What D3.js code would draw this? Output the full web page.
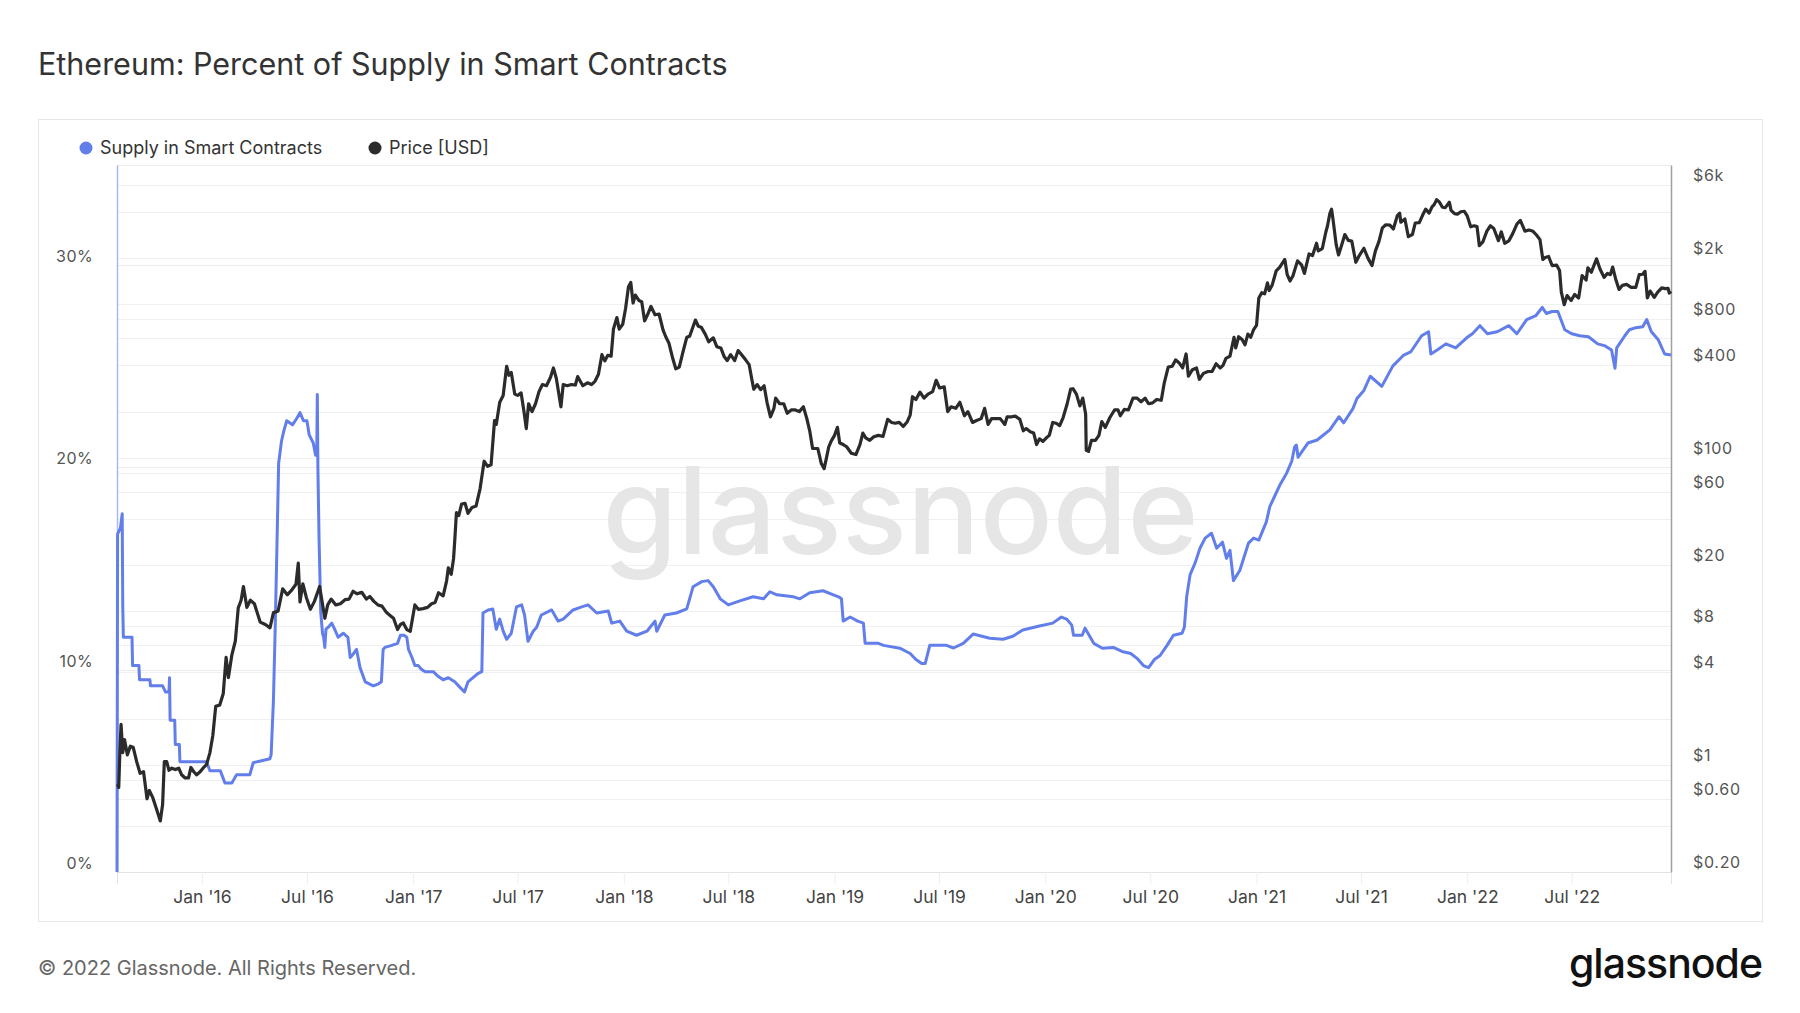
<!DOCTYPE html>
<html>
<head>
<meta charset="utf-8">
<script src="https://cdn.jsdelivr.net/npm/d3@7"></script>
<style>
  body { margin: 0; background: #fff; }
  svg { display: block; font-family: Inter, "Noto Sans", sans-serif; }
</style>
</head>
<body>
<svg id="chart" width="1800" height="1013"></svg>
<script>
// Percent of ETH supply held in smart contracts
const supplyData = [
  ["2015-08-07", 0], ["2015-08-08", 16.7], ["2015-08-13", 17.0], ["2015-08-16", 17.7], ["2015-08-17", 13.1],
  ["2015-08-18", 11.6], ["2015-09-02", 11.6], ["2015-09-03", 10.2], ["2015-09-14", 10.2], ["2015-09-15", 9.5],
  ["2015-10-03", 9.5], ["2015-10-04", 9.2], ["2015-10-25", 9.2], ["2015-10-30", 8.9], ["2015-11-05", 8.9],
  ["2015-11-06", 9.6], ["2015-11-07", 7.5], ["2015-11-15", 7.5], ["2015-11-16", 6.3], ["2015-11-23", 6.3],
  ["2015-11-24", 5.45], ["2016-01-09", 5.45], ["2016-01-15", 5.0], ["2016-02-02", 5.0], ["2016-02-06", 4.7],
  ["2016-02-10", 4.4], ["2016-02-22", 4.4], ["2016-03-01", 4.8], ["2016-03-24", 4.8], ["2016-03-30", 5.4],
  ["2016-04-28", 5.6], ["2016-04-30", 5.8], ["2016-05-04", 8.5], ["2016-05-07", 12.0], ["2016-05-10", 16.0],
  ["2016-05-13", 20.2], ["2016-05-18", 21.3], ["2016-05-22", 21.8], ["2016-05-27", 22.3], ["2016-06-06", 22.1],
  ["2016-06-13", 22.4], ["2016-06-19", 22.7], ["2016-06-25", 22.3], ["2016-07-01", 22.3], ["2016-07-05", 21.6],
  ["2016-07-12", 21.2], ["2016-07-16", 20.6], ["2016-07-18", 20.6], ["2016-07-19", 23.6], ["2016-07-20", 20.0],
  ["2016-07-22", 16.5], ["2016-07-25", 12.8], ["2016-07-28", 11.8], ["2016-07-30", 11.6], ["2016-08-01", 11.1],
  ["2016-08-03", 12.0], ["2016-08-07", 12.1], ["2016-08-13", 12.3], ["2016-08-18", 12.0], ["2016-08-24", 11.6],
  ["2016-09-02", 11.8], ["2016-09-10", 11.6], ["2016-09-14", 10.6], ["2016-09-20", 10.8], ["2016-09-25", 11.0],
  ["2016-10-01", 10.1], ["2016-10-10", 9.4], ["2016-10-17", 9.3], ["2016-10-24", 9.2], ["2016-11-02", 9.3],
  ["2016-11-07", 9.4], ["2016-11-10", 11.0], ["2016-11-13", 11.1], ["2016-11-25", 11.2], ["2016-12-05", 11.3],
  ["2016-12-10", 11.7], ["2016-12-16", 11.7], ["2016-12-21", 11.6], ["2016-12-24", 11.0], ["2016-12-30", 10.6],
  ["2017-01-04", 10.2], ["2017-01-10", 10.2], ["2017-01-16", 10.0], ["2017-01-22", 9.9], ["2017-02-05", 9.9],
  ["2017-02-12", 9.7], ["2017-02-22", 9.5], ["2017-03-03", 9.6], ["2017-03-14", 9.4], ["2017-03-24", 9.1],
  ["2017-03-31", 8.9], ["2017-04-06", 9.4], ["2017-04-23", 9.8], ["2017-04-30", 9.9], ["2017-05-02", 12.8],
  ["2017-05-11", 12.95], ["2017-05-19", 13.0], ["2017-05-25", 12.0], ["2017-05-31", 12.5], ["2017-06-06", 11.9],
  ["2017-06-12", 11.5], ["2017-06-20", 11.8], ["2017-06-29", 13.1], ["2017-07-08", 13.2], ["2017-07-13", 12.7],
  ["2017-07-19", 11.4], ["2017-07-28", 11.9], ["2017-08-03", 12.1], ["2017-08-11", 12.7], ["2017-08-29", 12.95],
  ["2017-09-09", 12.4], ["2017-09-18", 12.5], ["2017-10-05", 12.95], ["2017-10-20", 13.1], ["2017-10-31", 13.2],
  ["2017-11-15", 12.8], ["2017-12-05", 12.9], ["2017-12-11", 12.3], ["2017-12-25", 12.4], ["2018-01-06", 11.9],
  ["2018-01-23", 11.7], ["2018-02-10", 11.9], ["2018-02-24", 12.4], ["2018-02-27", 11.9], ["2018-03-13", 12.7],
  ["2018-04-02", 12.8], ["2018-04-20", 13.0], ["2018-05-01", 14.1], ["2018-05-16", 14.35], ["2018-05-27", 14.4],
  ["2018-06-05", 14.1], ["2018-06-17", 13.5], ["2018-07-01", 13.2], ["2018-07-21", 13.4], ["2018-08-13", 13.6],
  ["2018-08-31", 13.5], ["2018-09-11", 13.85], ["2018-09-23", 13.7], ["2018-10-22", 13.6], ["2018-11-02", 13.5],
  ["2018-11-19", 13.8], ["2018-12-12", 13.9], ["2018-12-30", 13.7], ["2019-01-08", 13.6], ["2019-01-13", 13.5],
  ["2019-01-16", 12.4], ["2019-01-28", 12.6], ["2019-02-10", 12.4], ["2019-02-20", 12.3], ["2019-02-23", 11.3],
  ["2019-03-18", 11.3], ["2019-03-27", 11.2], ["2019-04-24", 11.06], ["2019-05-12", 10.8], ["2019-05-22", 10.5],
  ["2019-06-01", 10.3], ["2019-06-07", 10.3], ["2019-06-15", 11.2], ["2019-07-14", 11.2], ["2019-07-26", 11.07],
  ["2019-08-12", 11.3], ["2019-08-29", 11.76], ["2019-09-27", 11.55], ["2019-10-20", 11.5], ["2019-11-06", 11.65],
  ["2019-11-23", 11.96], ["2019-12-22", 12.16], ["2020-01-14", 12.3], ["2020-01-29", 12.6], ["2020-02-07", 12.5],
  ["2020-02-16", 12.2], ["2020-02-19", 11.7], ["2020-03-05", 11.7], ["2020-03-10", 12.05], ["2020-03-19", 11.6],
  ["2020-03-25", 11.3], ["2020-04-09", 11.06], ["2020-04-28", 11.1], ["2020-05-13", 10.9], ["2020-05-28", 10.8],
  ["2020-06-08", 10.56], ["2020-06-19", 10.2], ["2020-06-28", 10.1], ["2020-07-08", 10.5], ["2020-07-18", 10.7],
  ["2020-07-30", 11.2], ["2020-08-10", 11.7], ["2020-08-25", 11.8], ["2020-08-29", 12.1], ["2020-09-02", 13.6],
  ["2020-09-08", 14.7], ["2020-09-17", 15.3], ["2020-09-25", 16.0], ["2020-10-04", 16.5], ["2020-10-15", 16.74],
  ["2020-10-24", 16.0], ["2020-11-03", 16.3], ["2020-11-10", 15.5], ["2020-11-16", 15.9], ["2020-11-22", 14.4],
  ["2020-12-03", 14.9], ["2020-12-18", 16.25], ["2020-12-27", 16.5], ["2021-01-05", 16.4], ["2021-01-18", 17.3],
  ["2021-01-24", 18.06], ["2021-02-10", 19.1], ["2021-02-22", 19.7], ["2021-03-03", 20.3], ["2021-03-08", 21.0],
  ["2021-03-11", 21.1], ["2021-03-14", 20.5], ["2021-03-31", 21.2], ["2021-04-16", 21.35], ["2021-05-08", 21.85],
  ["2021-05-24", 22.5], ["2021-06-01", 22.2], ["2021-06-17", 22.9], ["2021-06-24", 23.4], ["2021-07-06", 23.8],
  ["2021-07-17", 24.5], ["2021-08-06", 24.0], ["2021-08-25", 25.0], ["2021-09-13", 25.55], ["2021-09-25", 25.7],
  ["2021-10-14", 26.5], ["2021-10-26", 26.7], ["2021-10-30", 25.6], ["2021-11-10", 25.8], ["2021-11-25", 26.1],
  ["2021-12-12", 25.9], ["2021-12-31", 26.4], ["2022-01-10", 26.6], ["2022-01-23", 27.0], ["2022-02-05", 26.6],
  ["2022-02-22", 26.7], ["2022-03-14", 27.0], ["2022-03-28", 26.6], ["2022-04-14", 27.3], ["2022-04-30", 27.5],
  ["2022-05-11", 27.9], ["2022-05-18", 27.6], ["2022-05-28", 27.7], ["2022-06-07", 27.7], ["2022-06-19", 26.8],
  ["2022-07-01", 26.6], ["2022-07-15", 26.5], ["2022-07-30", 26.45], ["2022-08-15", 26.1], ["2022-08-28", 26.0],
  ["2022-09-08", 25.8], ["2022-09-14", 24.9], ["2022-09-17", 25.9], ["2022-10-01", 26.5], ["2022-10-09", 26.8],
  ["2022-10-20", 26.9], ["2022-11-01", 26.95], ["2022-11-08", 27.3], ["2022-11-16", 26.7], ["2022-11-28", 26.3],
  ["2022-12-09", 25.6], ["2022-12-20", 25.55]
];

// ETH price in USD
const priceData = [
  ["2015-08-08", 0.75], ["2015-08-10", 0.71], ["2015-08-12", 1.22], ["2015-08-14", 1.83], ["2015-08-17", 1.20],
  ["2015-08-20", 1.46], ["2015-08-25", 1.16], ["2015-08-30", 1.32], ["2015-09-04", 1.30], ["2015-09-10", 1.05],
  ["2015-09-16", 0.88], ["2015-09-22", 0.90], ["2015-09-28", 0.60], ["2015-10-02", 0.68], ["2015-10-08", 0.61],
  ["2015-10-14", 0.52], ["2015-10-21", 0.43], ["2015-10-25", 0.55], ["2015-10-28", 1.05], ["2015-11-01", 1.05],
  ["2015-11-05", 0.92], ["2015-11-10", 0.95], ["2015-11-16", 0.93], ["2015-11-22", 0.95], ["2015-11-27", 0.86],
  ["2015-12-03", 0.82], ["2015-12-09", 0.82], ["2015-12-13", 0.96], ["2015-12-18", 0.90], ["2015-12-23", 0.86],
  ["2015-12-29", 0.90], ["2016-01-03", 0.95], ["2016-01-09", 1.00], ["2016-01-15", 1.20], ["2016-01-20", 1.55],
  ["2016-01-25", 2.40], ["2016-02-01", 2.45], ["2016-02-07", 2.90], ["2016-02-12", 5.0], ["2016-02-16", 3.7],
  ["2016-02-22", 5.2], ["2016-02-28", 6.4], ["2016-03-04", 10.5], ["2016-03-09", 11.8], ["2016-03-13", 14.5],
  ["2016-03-19", 10.6], ["2016-03-25", 11.8], ["2016-04-01", 11.2], ["2016-04-11", 8.5], ["2016-04-20", 8.2],
  ["2016-04-28", 7.8], ["2016-05-04", 9.8], ["2016-05-12", 10.0], ["2016-05-20", 14.0], ["2016-05-28", 12.8],
  ["2016-06-05", 13.8], ["2016-06-12", 15.0], ["2016-06-16", 20.6], ["2016-06-19", 11.5], ["2016-06-24", 15.1],
  ["2016-06-30", 12.3], ["2016-07-07", 10.3], ["2016-07-14", 11.6], ["2016-07-23", 14.5], ["2016-08-01", 9.0],
  ["2016-08-06", 11.0], ["2016-08-12", 12.0], ["2016-08-20", 11.0], ["2016-08-28", 11.2], ["2016-09-05", 11.9],
  ["2016-09-12", 12.0], ["2016-09-19", 13.5], ["2016-09-26", 13.0], ["2016-10-04", 13.3], ["2016-10-12", 12.0],
  ["2016-10-18", 12.5], ["2016-10-25", 11.6], ["2016-11-01", 11.0], ["2016-11-08", 10.8], ["2016-11-16", 9.8],
  ["2016-11-22", 9.4], ["2016-11-28", 9.0], ["2016-12-05", 7.6], ["2016-12-10", 8.2], ["2016-12-15", 8.4],
  ["2016-12-21", 7.6], ["2016-12-27", 7.4], ["2017-01-04", 11.0], ["2017-01-10", 10.3], ["2017-01-18", 10.4],
  ["2017-01-26", 10.6], ["2017-02-02", 11.2], ["2017-02-08", 11.4], ["2017-02-14", 13.2], ["2017-02-22", 12.6],
  ["2017-02-28", 15.8], ["2017-03-03", 19.2], ["2017-03-08", 17.4], ["2017-03-12", 22.0], ["2017-03-14", 28.5],
  ["2017-03-17", 44.0], ["2017-03-21", 42.0], ["2017-03-26", 50.0], ["2017-04-01", 50.5], ["2017-04-06", 43.5],
  ["2017-04-13", 47.5], ["2017-04-20", 48.5], ["2017-04-27", 63.0], ["2017-05-04", 95.0], ["2017-05-10", 88.0],
  ["2017-05-16", 90.0], ["2017-05-22", 175], ["2017-05-25", 165], ["2017-05-31", 230], ["2017-06-06", 255],
  ["2017-06-12", 395], ["2017-06-16", 345], ["2017-06-20", 360], ["2017-06-26", 260], ["2017-07-01", 255],
  ["2017-07-07", 265], ["2017-07-12", 200], ["2017-07-16", 155], ["2017-07-20", 225], ["2017-07-26", 200],
  ["2017-08-01", 225], ["2017-08-07", 270], ["2017-08-13", 300], ["2017-08-20", 295], ["2017-08-27", 335],
  ["2017-09-01", 385], ["2017-09-06", 330], ["2017-09-14", 215], ["2017-09-18", 300], ["2017-09-25", 295],
  ["2017-10-02", 300], ["2017-10-09", 298], ["2017-10-13", 338], ["2017-10-22", 295], ["2017-10-30", 308],
  ["2017-11-06", 300], ["2017-11-12", 315], ["2017-11-18", 350], ["2017-11-24", 470], ["2017-11-29", 428],
  ["2017-12-04", 465], ["2017-12-10", 460], ["2017-12-14", 690], ["2017-12-20", 820], ["2017-12-24", 690],
  ["2017-12-30", 740], ["2018-01-04", 940], ["2018-01-09", 1300], ["2018-01-13", 1390], ["2018-01-17", 1020],
  ["2018-01-21", 1150], ["2018-01-27", 1060], ["2018-02-01", 1040], ["2018-02-06", 780], ["2018-02-11", 855],
  ["2018-02-17", 970], ["2018-02-24", 855], ["2018-03-03", 865], ["2018-03-10", 680], ["2018-03-15", 610],
  ["2018-03-20", 560], ["2018-03-27", 440], ["2018-04-01", 380], ["2018-04-07", 390], ["2018-04-14", 500],
  ["2018-04-20", 610], ["2018-04-25", 620], ["2018-05-05", 790], ["2018-05-10", 720], ["2018-05-15", 710],
  ["2018-05-22", 640], ["2018-05-28", 570], ["2018-06-05", 605], ["2018-06-11", 530], ["2018-06-18", 520],
  ["2018-06-24", 455], ["2018-06-29", 430], ["2018-07-05", 470], ["2018-07-12", 430], ["2018-07-18", 500],
  ["2018-07-24", 470], ["2018-07-31", 435], ["2018-08-06", 405], ["2018-08-11", 320], ["2018-08-14", 280],
  ["2018-08-20", 300], ["2018-08-26", 278], ["2018-09-01", 295], ["2018-09-06", 230], ["2018-09-12", 185],
  ["2018-09-18", 210], ["2018-09-21", 245], ["2018-09-28", 225], ["2018-10-05", 225], ["2018-10-11", 195],
  ["2018-10-18", 205], ["2018-10-25", 205], ["2018-11-01", 200], ["2018-11-08", 215], ["2018-11-14", 180],
  ["2018-11-19", 150], ["2018-11-24", 115], ["2018-11-28", 115], ["2018-12-03", 115], ["2018-12-09", 92],
  ["2018-12-14", 85], ["2018-12-18", 100], ["2018-12-22", 118], ["2018-12-26", 128], ["2019-01-01", 140],
  ["2019-01-06", 158], ["2019-01-10", 125], ["2019-01-16", 122], ["2019-01-22", 118], ["2019-01-30", 107],
  ["2019-02-07", 105], ["2019-02-14", 122], ["2019-02-19", 145], ["2019-02-24", 135], ["2019-03-03", 130],
  ["2019-03-10", 137], ["2019-03-18", 140], ["2019-03-26", 138], ["2019-04-03", 178], ["2019-04-10", 170],
  ["2019-04-16", 168], ["2019-04-23", 170], ["2019-04-30", 160], ["2019-05-07", 172], ["2019-05-12", 190],
  ["2019-05-16", 250], ["2019-05-22", 240], ["2019-05-29", 268], ["2019-06-05", 245], ["2019-06-12", 260],
  ["2019-06-20", 270], ["2019-06-26", 320], ["2019-07-02", 285], ["2019-07-10", 290], ["2019-07-16", 200],
  ["2019-07-22", 215], ["2019-07-30", 210], ["2019-08-06", 230], ["2019-08-14", 188], ["2019-08-20", 200],
  ["2019-08-28", 170], ["2019-09-04", 175], ["2019-09-12", 180], ["2019-09-18", 210], ["2019-09-24", 165],
  ["2019-09-30", 180], ["2019-10-08", 180], ["2019-10-15", 180], ["2019-10-23", 165], ["2019-10-27", 185],
  ["2019-11-04", 185], ["2019-11-10", 187], ["2019-11-18", 178], ["2019-11-24", 150], ["2019-11-29", 155],
  ["2019-12-06", 148], ["2019-12-12", 145], ["2019-12-17", 122], ["2019-12-22", 133], ["2019-12-28", 128],
  ["2020-01-03", 135], ["2020-01-08", 140], ["2020-01-14", 170], ["2020-01-20", 168], ["2020-01-26", 162],
  ["2020-02-01", 183], ["2020-02-08", 225], ["2020-02-14", 280], ["2020-02-18", 282], ["2020-02-24", 260],
  ["2020-03-01", 218], ["2020-03-06", 245], ["2020-03-11", 193], ["2020-03-12", 112], ["2020-03-16", 110],
  ["2020-03-21", 130], ["2020-03-28", 130], ["2020-04-03", 140], ["2020-04-08", 172], ["2020-04-14", 158],
  ["2020-04-22", 183], ["2020-04-30", 205], ["2020-05-06", 205], ["2020-05-10", 188], ["2020-05-17", 207],
  ["2020-05-24", 205], ["2020-06-01", 245], ["2020-06-08", 245], ["2020-06-15", 232], ["2020-06-22", 245],
  ["2020-06-28", 225], ["2020-07-05", 228], ["2020-07-12", 240], ["2020-07-20", 237], ["2020-07-25", 305],
  ["2020-08-01", 390], ["2020-08-08", 395], ["2020-08-14", 435], ["2020-08-20", 415], ["2020-08-26", 385],
  ["2020-09-01", 475], ["2020-09-05", 340], ["2020-09-12", 375], ["2020-09-19", 385], ["2020-09-24", 325],
  ["2020-10-01", 355], ["2020-10-09", 365], ["2020-10-16", 365], ["2020-10-23", 410], ["2020-10-30", 385],
  ["2020-11-04", 400], ["2020-11-09", 445], ["2020-11-16", 460], ["2020-11-23", 610], ["2020-11-26", 520],
  ["2020-12-01", 615], ["2020-12-07", 590], ["2020-12-12", 545], ["2020-12-17", 640], ["2020-12-22", 610],
  ["2020-12-27", 685], ["2021-01-01", 730], ["2021-01-05", 1100], ["2021-01-10", 1190], ["2021-01-15", 1170],
  ["2021-01-20", 1380], ["2021-01-23", 1230], ["2021-01-28", 1330], ["2021-02-04", 1650], ["2021-02-10", 1740],
  ["2021-02-19", 1960], ["2021-02-23", 1570], ["2021-02-28", 1420], ["2021-03-05", 1530], ["2021-03-13", 1920],
  ["2021-03-20", 1810], ["2021-03-25", 1590], ["2021-04-02", 2130], ["2021-04-08", 2080], ["2021-04-15", 2500],
  ["2021-04-18", 2230], ["2021-04-25", 2310], ["2021-05-01", 2950], ["2021-05-04", 3250], ["2021-05-08", 3900],
  ["2021-05-11", 4170], ["2021-05-13", 3700], ["2021-05-19", 2450], ["2021-05-23", 2100], ["2021-05-28", 2400],
  ["2021-06-03", 2850], ["2021-06-09", 2610], ["2021-06-15", 2580], ["2021-06-22", 1880], ["2021-06-28", 2080],
  ["2021-07-06", 2320], ["2021-07-13", 2000], ["2021-07-20", 1790], ["2021-07-26", 2230], ["2021-08-01", 2560],
  ["2021-08-07", 3150], ["2021-08-13", 3300], ["2021-08-20", 3280], ["2021-08-26", 3100], ["2021-09-02", 3790],
  ["2021-09-06", 3930], ["2021-09-08", 3430], ["2021-09-15", 3600], ["2021-09-21", 2760], ["2021-09-28", 2850],
  ["2021-10-03", 3390], ["2021-10-10", 3410], ["2021-10-16", 3830], ["2021-10-21", 4170], ["2021-10-27", 3930],
  ["2021-11-01", 4320], ["2021-11-05", 4480], ["2021-11-09", 4810], ["2021-11-14", 4630], ["2021-11-19", 4290],
  ["2021-11-24", 4270], ["2021-12-01", 4630], ["2021-12-04", 4100], ["2021-12-10", 3900], ["2021-12-15", 3870],
  ["2021-12-21", 4010], ["2021-12-27", 4040], ["2022-01-01", 3770], ["2022-01-07", 3200], ["2022-01-13", 3250],
  ["2022-01-18", 3210], ["2022-01-22", 2410], ["2022-01-28", 2550], ["2022-02-04", 3000], ["2022-02-10", 3250],
  ["2022-02-16", 3120], ["2022-02-24", 2600], ["2022-03-01", 2970], ["2022-03-07", 2500], ["2022-03-14", 2590],
  ["2022-03-21", 2900], ["2022-03-28", 3330], ["2022-04-03", 3520], ["2022-04-11", 3000], ["2022-04-18", 3050],
  ["2022-04-25", 2990], ["2022-05-01", 2830], ["2022-05-07", 2640], ["2022-05-12", 1960], ["2022-05-16", 2020],
  ["2022-05-22", 2050], ["2022-05-28", 1790], ["2022-06-05", 1800], ["2022-06-10", 1660], ["2022-06-13", 1200],
  ["2022-06-18", 995], ["2022-06-23", 1140], ["2022-06-30", 1060], ["2022-07-06", 1160], ["2022-07-13", 1100],
  ["2022-07-19", 1540], ["2022-07-26", 1440], ["2022-07-29", 1730], ["2022-08-04", 1620], ["2022-08-13", 1980],
  ["2022-08-19", 1700], ["2022-08-26", 1500], ["2022-09-01", 1590], ["2022-09-06", 1560], ["2022-09-10", 1750],
  ["2022-09-15", 1470], ["2022-09-21", 1250], ["2022-09-27", 1330], ["2022-10-04", 1350], ["2022-10-12", 1290],
  ["2022-10-20", 1290], ["2022-10-26", 1560], ["2022-11-01", 1570], ["2022-11-05", 1640], ["2022-11-09", 1100],
  ["2022-11-14", 1220], ["2022-11-21", 1110], ["2022-11-27", 1200], ["2022-12-04", 1280], ["2022-12-10", 1265],
  ["2022-12-15", 1270], ["2022-12-17", 1185], ["2022-12-20", 1215]
];

const dateRange = ["2015-08-07", "2022-12-20"];
const xTickDates = ["2016-01-01", "2016-07-01", "2017-01-01", "2017-07-01", "2018-01-01", "2018-07-01",
  "2019-01-01", "2019-07-01", "2020-01-01", "2020-07-01", "2021-01-01", "2021-07-01", "2022-01-01", "2022-07-01"];
const pctTicks = [0, 10, 20, 30];
const pctMax = 34.94;
const priceDomain = [0.2, 8090];
const priceGridTicks = [0.2, 0.4, 0.6, 0.8, 1, 2, 4, 6, 8, 10, 20, 40, 60, 80, 100, 200, 400, 600, 800,
  1000, 2000, 4000, 6000];
const priceLabelTicks = [0.2, 0.6, 1, 4, 8, 20, 60, 100, 400, 800, 2000, 6000];

const BLUE = "#627eea";
const DARK = "#2b2b2b";

const parse = d3.timeParse("%Y-%m-%d");
const supply = supplyData.map(d => ({ time: parse(d[0]), value: d[1] }));
const price = priceData.map(d => ({ time: parse(d[0]), value: d[1] }));

const svg = d3.select("#chart");
const margin = { top: 165, right: 129, bottom: 141, left: 117 };
const width = 1800 - margin.left - margin.right;
const height = 1013 - margin.top - margin.bottom;

// title + frame
svg.append("text")
  .attr("x", 38).attr("y", 75)
  .attr("font-size", 30.5)
  .attr("fill", "#333")
  .text("Ethereum: Percent of Supply in Smart Contracts");

svg.append("rect")
  .attr("x", 38.5).attr("y", 119.5)
  .attr("width", 1724).attr("height", 802)
  .attr("fill", "#fff")
  .attr("stroke", "#e6e6e6");

// legend
const legend = [
  { label: "Supply in Smart Contracts", color: BLUE, x: 86 },
  { label: "Price [USD]", color: DARK, x: 375 }
];
const lg = svg.selectAll(".legend").data(legend).enter().append("g")
  .attr("transform", d => `translate(${d.x},148)`);
lg.append("circle").attr("r", 6.5).attr("fill", d => d.color);
lg.append("text")
  .attr("x", 14).attr("dy", "0.35em")
  .attr("font-size", 18).attr("fill", "#333")
  .text(d => d.label);

const g = svg.append("g").attr("transform", `translate(${margin.left},${margin.top})`);

const x = d3.scaleTime().domain(dateRange.map(parse)).range([0, width]);
const yL = d3.scaleLinear().domain([0, pctMax]).range([height, 0]);
const yR = d3.scaleLog().domain(priceDomain).range([height, 0]);

// gridlines
g.append("g").selectAll("line")
  .data(priceGridTicks)
  .enter().append("line")
  .attr("x1", 0).attr("x2", width)
  .attr("y1", d => Math.round(yR(d)) + 0.5).attr("y2", d => Math.round(yR(d)) + 0.5)
  .attr("stroke", "#f0f0f0");

g.append("g").selectAll("line")
  .data(pctTicks)
  .enter().append("line")
  .attr("x1", 0).attr("x2", width)
  .attr("y1", d => Math.round(yL(d)) + 0.5).attr("y2", d => Math.round(yL(d)) + 0.5)
  .attr("stroke", "#ececec");

g.append("line")
  .attr("x1", 0).attr("x2", width).attr("y1", 0.5).attr("y2", 0.5)
  .attr("stroke", "#ececec");

// watermark
g.append("text")
  .attr("x", x(parse("2019-01-01")) + 66).attr("y", yL(15.7))
  .attr("text-anchor", "middle")
  .attr("font-size", 121)
  .attr("font-weight", 500)
  .attr("fill", "#e6e6e6")
  .text("glassnode");

// x axis
const xAxis = g.append("g")
  .attr("transform", `translate(0,${height})`)
  .call(d3.axisBottom(x)
    .tickValues(xTickDates.map(parse))
    .tickFormat(d3.timeFormat("%b '%y"))
    .tickSize(12)
    .tickPadding(7));
xAxis.select(".domain").attr("stroke", "#e3e3e3");
xAxis.selectAll(".tick line").attr("stroke", "#eeeeee");
xAxis.selectAll(".tick text")
  .attr("font-family", "Inter, sans-serif")
  .attr("font-size", 17.5).attr("fill", "#444");

// left axis
const leftAxis = g.append("g")
  .call(d3.axisLeft(yL).tickValues(pctTicks).tickFormat(d => d + "%").tickSize(0).tickPadding(24));
leftAxis.select(".domain").attr("stroke", "#a9b8f3").attr("stroke-width", 1.5);
leftAxis.selectAll(".tick text")
  .attr("font-family", "Inter, sans-serif")
  .attr("font-size", 16).attr("fill", "#555")
  .attr("letter-spacing", 0.4)
  .attr("dy", "-0.22em");

// right axis
const fmtPrice = d => d >= 1000 ? "$" + (d / 1000) + "k" : d < 1 ? "$" + d.toFixed(2) : "$" + d;
const rightAxis = g.append("g")
  .attr("transform", `translate(${width},0)`)
  .call(d3.axisRight(yR).tickValues(priceLabelTicks).tickFormat(fmtPrice).tickSize(0).tickPadding(22));
rightAxis.select(".domain").attr("stroke", "#a0a0a0").attr("stroke-width", 1.5);
rightAxis.selectAll(".tick text")
  .attr("font-family", "Inter, sans-serif")
  .attr("font-size", 16).attr("fill", "#555")
  .attr("letter-spacing", 0.7)
  .attr("dy", "-0.28em");

// series
const lineL = d3.line().x(d => x(d.time)).y(d => yL(d.value));
const lineR = d3.line().x(d => x(d.time)).y(d => yR(d.value));

g.append("path")
  .datum(supply)
  .attr("fill", "none")
  .attr("stroke", BLUE)
  .attr("stroke-width", 3)
  .attr("stroke-linejoin", "round")
  .attr("d", lineL);

g.append("path")
  .datum(price)
  .attr("fill", "none")
  .attr("stroke", DARK)
  .attr("stroke-width", 3.2)
  .attr("stroke-linejoin", "round")
  .attr("d", lineR);

// footer
svg.append("text")
  .attr("x", 38).attr("y", 975)
  .attr("font-size", 20).attr("fill", "#666")
  .text("© 2022 Glassnode. All Rights Reserved.");

svg.append("text")
  .attr("x", 1762).attr("y", 978)
  .attr("text-anchor", "end")
  .attr("font-size", 41).attr("font-weight", 500)
  .attr("letter-spacing", -1)
  .attr("fill", "#111")
  .text("glassnode");
</script>
</body>
</html>
